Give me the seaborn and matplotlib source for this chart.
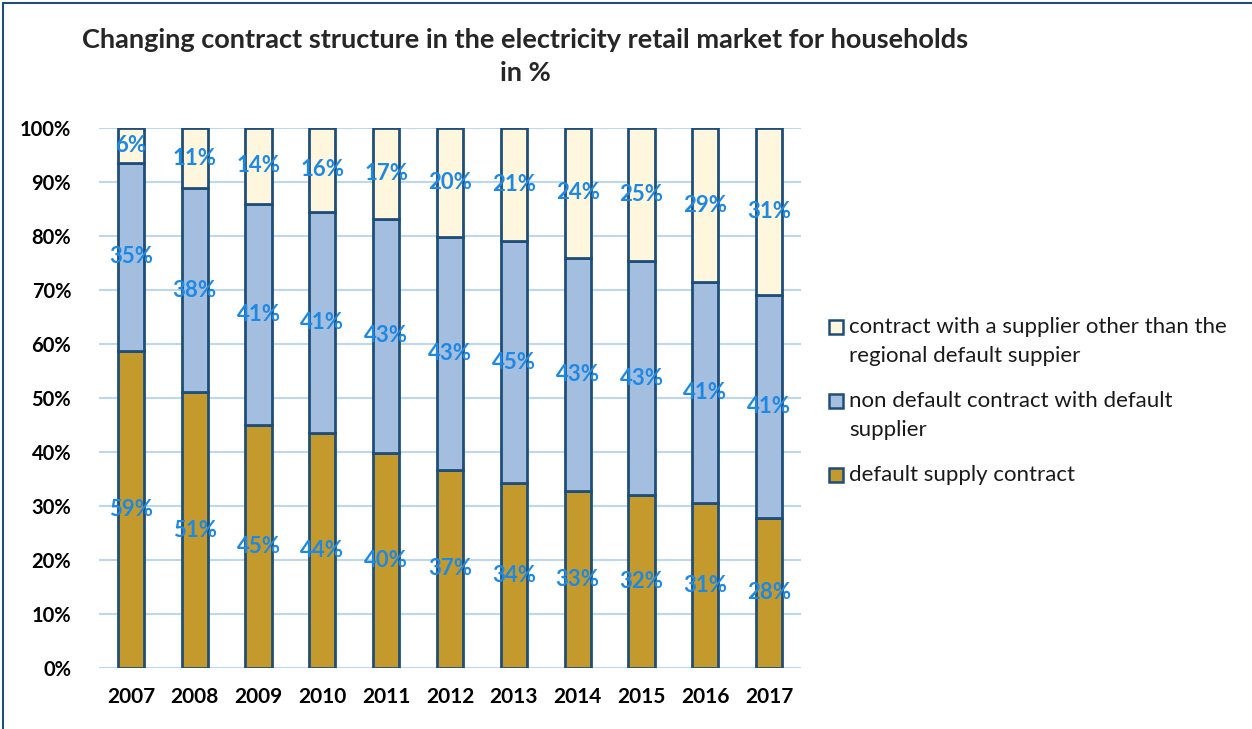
import numpy as np
import matplotlib
matplotlib.use("Agg")
import matplotlib.pyplot as plt
import seaborn as sns
from matplotlib.lines import Line2D
from matplotlib.patches import Rectangle

years = ["2007", "2008", "2009", "2010", "2011", "2012", "2013", "2014", "2015", "2016", "2017"]
default_supply = [58.7, 51.1, 45.0, 43.6, 39.8, 36.7, 34.2, 32.8, 32.1, 30.6, 27.8]
non_default = [34.9, 37.7, 41.0, 40.9, 43.4, 43.2, 44.8, 43.2, 43.2, 40.8, 41.2]
other_supplier = [6.4, 11.2, 14.0, 15.5, 16.8, 20.1, 21.0, 24.0, 24.7, 28.6, 31.0]

series_names = ["default supply contract",
                "non default contract with default\nsupplier",
                "contract with a supplier other than the\nregional default suppier"]
colors = ["#C49A2C", "#A3BEDE", "#FFF6DE"]
edge = "#1F4E79"
label_color = "#1E88E5"

sns.set_theme(style="white")
plt.rcParams["font.family"] = ["Lato", "DejaVu Sans"]

W, H = 1252, 729
fig = plt.figure(figsize=(W / 100, H / 100), dpi=100)
ax = fig.add_axes([99 / W, 1 - 668 / H, (801 - 99) / W, (668 - 128) / H])

bottoms = [np.zeros(len(years)), np.array(default_supply), np.array(default_supply) + np.array(non_default)]
vals = [default_supply, non_default, other_supplier]

for v, b, c in zip(vals, bottoms, colors):
    sns.barplot(x=years, y=v, bottom=b, color=c, edgecolor=edge, linewidth=2,
                width=0.41, ax=ax, saturation=1, zorder=3)

for v, b in zip(vals, bottoms):
    for i, (vv, bb) in enumerate(zip(v, b)):
        ax.text(i, bb + vv / 2, f"{vv:.0f}%", ha="center", va="center",
                color=label_color, fontsize=16, fontweight="bold", zorder=5)

ax.set_xlim(-0.5, 10.5)
ax.set_ylim(0, 100)
ax.set_yticks(np.arange(0, 101, 10))
ax.set_yticklabels([f"{t}%" for t in range(0, 101, 10)])
ax.yaxis.grid(True, color="#BDD7EE", linewidth=1.5, zorder=0)
ax.set_axisbelow(True)
for s in ax.spines.values():
    s.set_visible(False)
ax.tick_params(axis="y", length=0, pad=20, labelsize=14.5)
ax.tick_params(axis="x", length=0, pad=14, labelsize=15)
for lab in ax.get_xticklabels() + ax.get_yticklabels():
    lab.set_fontweight("bold")
    lab.set_color("black")
ax.set_xlabel("")
ax.set_ylabel("")

fig.text(525 / W, 1 - 40 / H, "Changing contract structure in the electricity retail market for households",
         ha="center", va="center", fontsize=19.5, fontweight="bold")
fig.text(525 / W, 1 - 73 / H, "in %", ha="center", va="center", fontsize=19.5, fontweight="bold")

# legend (entries top to bottom: other, non default, default)
legend_rows = [(2, 327), (1, 401), (0, 475)]
for idx, ypix in legend_rows:
    fig.add_artist(Rectangle((829 / W, 1 - (ypix + 7) / H), 14 / W, 14 / H,
                             facecolor=colors[idx], edgecolor=edge, linewidth=1.8,
                             transform=fig.transFigure))
    fig.text(849 / W, 1 - (ypix - 10) / H, series_names[idx], ha="left", va="top",
             fontsize=16, color="#1a1a1a", linespacing=1.55)

fig.add_artist(Line2D([3 / W, 3 / W], [0, 1 - 3 / H], color=edge, linewidth=1.5))
fig.add_artist(Line2D([3 / W, 1], [1 - 3 / H, 1 - 3 / H], color=edge, linewidth=1.5))

fig.savefig("out.png", dpi=100)
